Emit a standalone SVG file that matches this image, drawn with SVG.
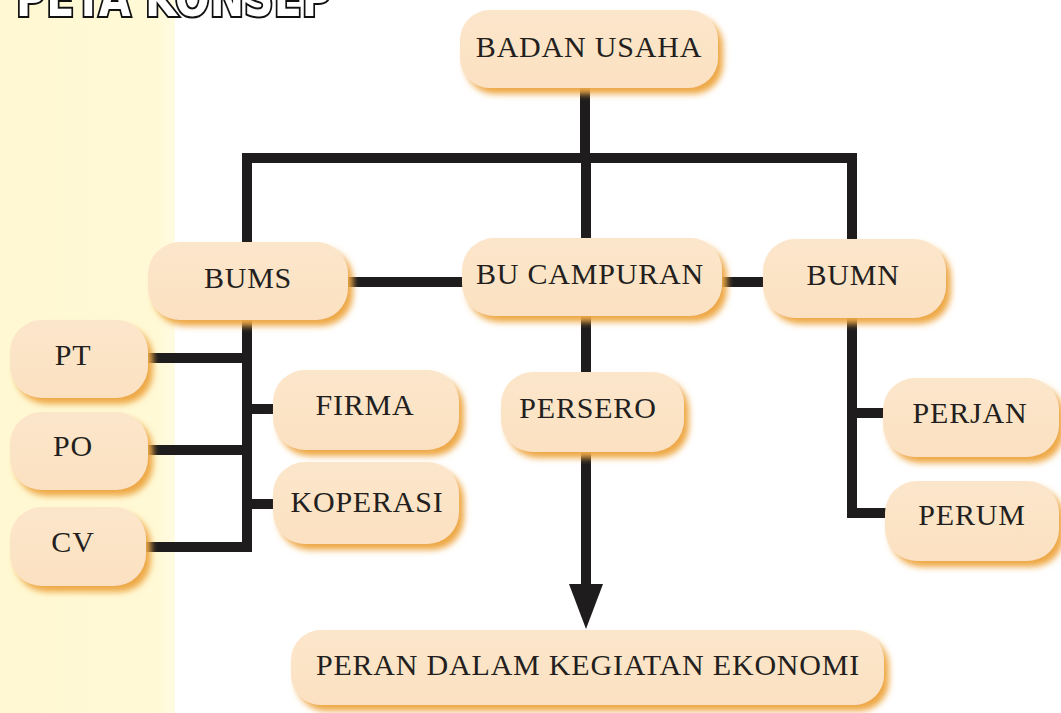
<svg xmlns="http://www.w3.org/2000/svg" width="1061" height="713" viewBox="0 0 1061 713">
<style>
.box{fill:url(#boxg);filter:url(#sh)}
.lbl{font-family:"Liberation Serif","Times New Roman",serif;font-size:30px;letter-spacing:0.8px;fill:#231f20;text-anchor:middle}
.con{fill:none;stroke:#1e1c1d;stroke-width:10;stroke-linecap:square;stroke-linejoin:miter}
.title{font-family:"DejaVu Sans Condensed","DejaVu Sans","Liberation Sans",sans-serif;font-weight:bold;font-size:52px;fill:#ffffff;stroke:#111;stroke-width:4;paint-order:stroke}
</style>
<defs>
<linearGradient id="boxg" x1="0" y1="0" x2="0" y2="1">
<stop offset="0" stop-color="#fce6cb"/>
<stop offset="1" stop-color="#fbe1c1"/>
</linearGradient>
<linearGradient id="band" x1="0" y1="0" x2="1" y2="0">
<stop offset="0" stop-color="#fff8d2"/>
<stop offset="0.9" stop-color="#fff9d6"/>
<stop offset="1" stop-color="#fffbe2"/>
</linearGradient>
<filter id="sh" x="-10%" y="-20%" width="125%" height="150%">
<feGaussianBlur in="SourceAlpha" stdDeviation="3"/>
<feOffset dx="5" dy="6" result="b"/>
<feFlood flood-color="#eea845"/>
<feComposite in2="b" operator="in"/>
<feMerge><feMergeNode/><feMergeNode in="SourceGraphic"/></feMerge>
</filter>
</defs>
<rect x="0" y="0" width="1061" height="713" fill="#ffffff"/>
<rect x="0" y="0" width="175" height="713" fill="url(#band)"/>
<text class="title" x="16" y="16" textLength="316" lengthAdjust="spacingAndGlyphs">PETA KONSEP</text>

<g id="connectors">
<path class="con" d="M585 88 V158"/>
<path class="con" d="M247 158 H852"/>
<path class="con" d="M247 158 V240"/>
<path class="con" d="M586 158 V236"/>
<path class="con" d="M852 158 V236"/>
<path class="con" d="M348 282 H460"/>
<path class="con" d="M722 282 H761"/>
<path class="con" d="M247 320 V547"/>
<path class="con" d="M150 358 H247"/>
<path class="con" d="M150 450 H247"/>
<path class="con" d="M148 547 H247"/>
<path class="con" d="M247 409 H272"/>
<path class="con" d="M247 504 H272"/>
<path class="con" d="M586 316 V370"/>
<path class="con" d="M586 452 V588"/>
<polygon points="569,584 603,584 586,629" fill="#1e1c1d"/>
<path class="con" d="M852 318 V513"/>
<path class="con" d="M852 413 H881"/>
<path class="con" d="M852 513 H883"/>
</g>

<g id="badan-usaha"><rect class="box" x="460" y="10" width="258" height="78" rx="30"/><text class="lbl" x="589" y="57">BADAN USAHA</text></g>
<g id="bums"><rect class="box" x="148" y="242" width="200" height="78" rx="32"/><text class="lbl" x="248" y="288">BUMS</text></g>
<g id="bu-campuran"><rect class="box" x="462" y="238" width="260" height="78" rx="32"/><text class="lbl" x="590" y="284">BU CAMPURAN</text></g>
<g id="bumn"><rect class="box" x="763" y="239" width="183" height="79" rx="32"/><text class="lbl" x="853" y="285">BUMN</text></g>
<g id="pt"><rect class="box" x="10" y="320" width="138" height="78" rx="32"/><text class="lbl" x="73" y="365">PT</text></g>
<g id="po"><rect class="box" x="10" y="412" width="138" height="78" rx="32"/><text class="lbl" x="73" y="456">PO</text></g>
<g id="cv"><rect class="box" x="10" y="507" width="136" height="79" rx="32"/><text class="lbl" x="73" y="552">CV</text></g>
<g id="firma"><rect class="box" x="273" y="370" width="186" height="80" rx="32"/><text class="lbl" x="365" y="415">FIRMA</text></g>
<g id="koperasi"><rect class="box" x="273" y="462" width="186" height="82" rx="32"/><text class="lbl" x="367" y="512">KOPERASI</text></g>
<g id="persero"><rect class="box" x="501" y="372" width="183" height="80" rx="32"/><text class="lbl" x="588" y="418">PERSERO</text></g>
<g id="perjan"><rect class="box" x="883" y="378" width="176" height="79" rx="32"/><text class="lbl" x="970" y="423">PERJAN</text></g>
<g id="perum"><rect class="box" x="885" y="481" width="174" height="80" rx="32"/><text class="lbl" x="972" y="525">PERUM</text></g>
<g id="peran"><rect class="box" x="291" y="630" width="593" height="75" rx="30"/><text class="lbl" x="588" y="675">PERAN DALAM KEGIATAN EKONOMI</text></g>
</svg>
